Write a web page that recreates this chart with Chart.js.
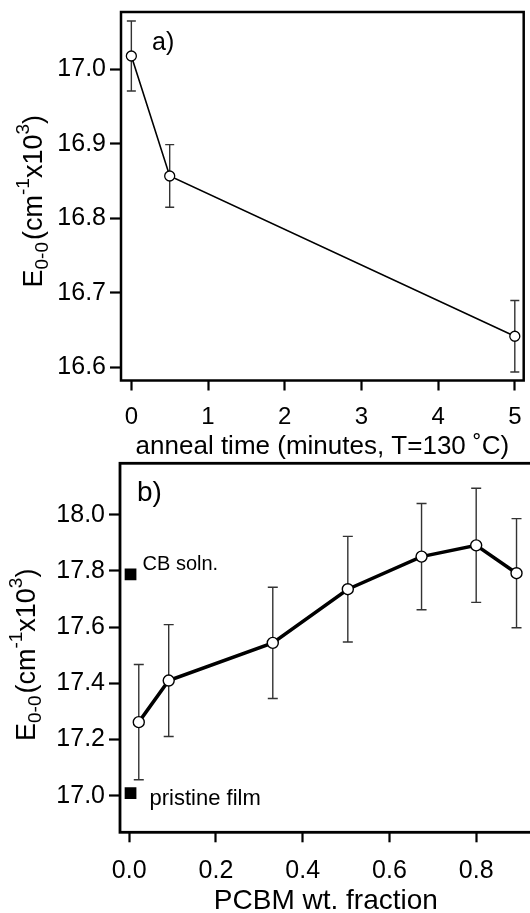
<!DOCTYPE html>
<html>
<head>
<meta charset="utf-8">
<script src="https://cdn.jsdelivr.net/npm/chart.js@4.4.0/dist/chart.umd.min.js"></script>
<style>
  html, body { margin: 0; padding: 0; background: #fff; overflow: hidden; }
  body { width: 530px; height: 913px; position: relative; }
  #wrapA { position: absolute; left: 0; top: 0; width: 530px; height: 465px; }
  #wrapB { position: absolute; left: 0; top: 455px; width: 540px; height: 458px; }
</style>
</head>
<body>
<div id="wrapA"><canvas id="chartA" width="530" height="465"></canvas></div>
<div id="wrapB"><canvas id="chartB" width="540" height="458"></canvas></div>
<script>
// panel a) - E0-0 vs anneal time
const annealTime = [0, 0.5, 5];
const annealE = [17.018, 16.857, 16.642];
const annealErr = [0.047, 0.042, 0.048];
const annealTicksX = [0, 1, 2, 3, 4, 5];
const annealTicksY = [16.6, 16.7, 16.8, 16.9, 17.0];

// panel b) - E0-0 vs PCBM fraction
const pcbmFraction = [0.022, 0.091, 0.331, 0.504, 0.674, 0.8, 0.893];
const pcbmE = [17.262, 17.41, 17.544, 17.735, 17.851, 17.891, 17.792];
const pcbmErr = [0.205, 0.199, 0.198, 0.188, 0.189, 0.203, 0.194];
const refLabels = ['CB soln.', 'pristine film'];
const refFraction = [0.003, 0.003];
const refE = [17.788, 17.009];
const pcbmTicksX = [0, 0.2, 0.4, 0.6, 0.8];
const pcbmTicksY = [17.0, 17.2, 17.4, 17.6, 17.8, 18.0];

// y title pieces: E_0-0 (cm^-1 x10^3)
const yTitleParts = [
    { t: 'E' }, { t: '0-0', sub: true }, { t: '(cm', gap: 2 },
    { t: '-1', sup: true }, { t: 'x10' }, { t: '3', sup: true }, { t: ')' }
];

const FONT = '"Liberation Sans", Arial, sans-serif';
Chart.defaults.font.family = FONT;
Chart.defaults.color = '#000';

function drawYTitle(ctx, baseX, centerY, size, subSize) {
    ctx.save();
    ctx.translate(baseX, centerY);
    ctx.rotate(-Math.PI / 2);
    ctx.fillStyle = '#000';
    ctx.textBaseline = 'alphabetic';
    let total = 0;
    const widths = yTitleParts.map(p => {
        ctx.font = `${p.sub || p.sup ? subSize : size}px ${FONT}`;
        const w = ctx.measureText(p.t).width + (p.gap || 0);
        total += w;
        return w;
    });
    let cx = -total / 2;
    yTitleParts.forEach((p, i) => {
        ctx.font = `${p.sub || p.sup ? subSize : size}px ${FONT}`;
        const dy = p.sub ? size * 0.22 : (p.sup ? -size * 0.5 : 0);
        ctx.fillText(p.t, cx + (p.gap || 0), dy);
        cx += widths[i];
    });
    ctx.restore();
}

const decor = {
    id: 'decor',
    beforeDatasetsDraw(chart, args, opts) {
        const { ctx, scales: { x, y } } = chart;
        ctx.save();
        ctx.strokeStyle = opts.errColor;
        ctx.lineWidth = opts.errWidth;
        chart.data.datasets.forEach(ds => {
            if (!ds.errors) return;
            ds.data.forEach((p, i) => {
                const px = x.getPixelForValue(p.x);
                const y1 = y.getPixelForValue(p.y + ds.errors[i]);
                const y2 = y.getPixelForValue(p.y - ds.errors[i]);
                ctx.beginPath();
                ctx.moveTo(px, y1); ctx.lineTo(px, y2);
                ctx.moveTo(px - opts.cap, y1); ctx.lineTo(px + opts.cap, y1);
                ctx.moveTo(px - opts.cap, y2); ctx.lineTo(px + opts.cap, y2);
                ctx.stroke();
            });
        });
        ctx.restore();
    },
    afterDraw(chart, args, opts) {
        const { ctx, chartArea: a, scales: { x, y } } = chart;
        ctx.save();
        // box frame
        ctx.strokeStyle = '#000';
        ctx.lineWidth = opts.frameWidth;
        ctx.strokeRect(a.left, a.top, a.right - a.left, a.bottom - a.top);
        // panel letter
        ctx.fillStyle = '#000';
        ctx.textBaseline = 'alphabetic';
        ctx.textAlign = 'left';
        ctx.font = `${opts.letterSize}px ${FONT}`;
        ctx.fillText(opts.letter, a.left + opts.letterDx, a.top + opts.letterDy);
        // labels next to reference squares
        chart.data.datasets.forEach(ds => {
            if (!ds.pointLabels) return;
            ds.data.forEach((p, i) => {
                const off = opts.labelOffsets[i];
                ctx.font = `${opts.labelSizes[i]}px ${FONT}`;
                ctx.fillText(ds.pointLabels[i], x.getPixelForValue(p.x) + off[0], y.getPixelForValue(p.y) + off[1]);
            });
        });
        ctx.restore();
        drawYTitle(ctx, opts.titleX, (a.top + a.bottom) / 2 + opts.titleShift, opts.titleSize, opts.titleSubSize);
    }
};

function axisX(cfg) {
    return {
        type: 'linear',
        min: cfg.min,
        max: cfg.max,
        afterBuildTicks: ax => { ax.ticks = cfg.ticks.map(v => ({ value: v })); },
        afterFit: ax => { ax.height = cfg.height; ax.paddingLeft = 0; ax.paddingRight = 0; },
        border: { display: false },
        grid: { drawOnChartArea: false, tickLength: 10, tickWidth: 2.2, tickColor: '#000' },
        ticks: {
            autoSkip: false, maxRotation: 0, color: '#000', padding: cfg.pad,
            font: { size: cfg.tickSize },
            callback: cfg.fmt
        },
        title: {
            display: true, text: cfg.title, color: '#000',
            font: { size: cfg.titleSize, lineHeight: cfg.titleLH },
            padding: { top: 0, bottom: cfg.titlePad }
        }
    };
}

function axisY(cfg) {
    return {
        type: 'linear',
        min: cfg.min,
        max: cfg.max,
        afterBuildTicks: ax => { ax.ticks = cfg.ticks.map(v => ({ value: v })); },
        afterFit: ax => { ax.width = cfg.width; ax.paddingTop = 0; ax.paddingBottom = 0; },
        border: { display: false },
        grid: { drawOnChartArea: false, tickLength: 11, tickWidth: 2.2, tickColor: '#000' },
        ticks: {
            autoSkip: false, color: '#000', padding: 4,
            font: { size: cfg.tickSize },
            callback: v => Number(v).toFixed(1)
        }
    };
}

const pts = (xs, ys) => xs.map((v, i) => ({ x: v, y: ys[i] }));

new Chart(document.getElementById('chartA'), {
    type: 'scatter',
    data: {
        datasets: [{
            data: pts(annealTime, annealE),
            errors: annealErr,
            showLine: true,
            borderColor: '#000',
            borderWidth: 1.6,
            pointRadius: 5,
            pointBorderWidth: 1.3,
            pointBackgroundColor: '#fff',
            pointBorderColor: '#000'
        }]
    },
    options: {
        responsive: false,
        animation: false,
        devicePixelRatio: 1,
        layout: { padding: { top: 12, right: 1.7, left: 0, bottom: 0 } },
        plugins: {
            legend: { display: false },
            tooltip: { enabled: false },
            decor: {
                errColor: '#333', errWidth: 1.4, cap: 4.5, frameWidth: 2.5,
                letter: 'a)', letterSize: 25, letterDx: 31, letterDy: 38,
                titleX: 42, titleShift: 5, titleSize: 27, titleSubSize: 19
            }
        },
        scales: {
            x: axisX({
                min: -0.135, max: 5.116, ticks: annealTicksX, height: 84.5, pad: 12,
                tickSize: 24, fmt: v => String(v),
                title: 'anneal time (minutes, T=130 \u02DAC)', titleSize: 26, titleLH: 1, titlePad: 5
            }),
            y: axisY({ min: 16.5826, max: 17.077, ticks: annealTicksY, width: 121, tickSize: 25 })
        }
    },
    plugins: [decor]
});

new Chart(document.getElementById('chartB'), {
    type: 'scatter',
    data: {
        datasets: [{
            data: pts(pcbmFraction, pcbmE),
            errors: pcbmErr,
            showLine: true,
            borderColor: '#000',
            borderWidth: 3.5,
            pointRadius: 5.5,
            pointBorderWidth: 1.4,
            pointBackgroundColor: '#fff',
            pointBorderColor: '#000'
        }, {
            data: pts(refFraction, refE),
            pointLabels: refLabels,
            showLine: false,
            pointStyle: 'rect',
            pointRadius: 8.3,
            pointBorderWidth: 0,
            pointBackgroundColor: '#000',
            pointBorderColor: '#000'
        }]
    },
    options: {
        responsive: false,
        animation: false,
        devicePixelRatio: 1,
        layout: { padding: { top: 8.3, right: 5, left: 0, bottom: 0 } },
        plugins: {
            legend: { display: false },
            tooltip: { enabled: false },
            decor: {
                errColor: '#333', errWidth: 1.4, cap: 5, frameWidth: 2.8,
                letter: 'b)', letterSize: 28, letterDx: 17, letterDy: 38,
                labelSizes: [20, 22], labelOffsets: [[12, -4], [19, 12]],
                titleX: 35, titleShift: 7, titleSize: 27, titleSubSize: 19
            }
        },
        scales: {
            x: axisX({
                min: -0.0213, max: 0.928, ticks: pcbmTicksX, height: 80.7, pad: 14,
                tickSize: 25, fmt: v => Number(v).toFixed(1),
                title: 'PCBM wt. fraction', titleSize: 28, titleLH: 0.85, titlePad: 0
            }),
            y: axisY({ min: 16.870, max: 18.183, ticks: pcbmTicksY, width: 120, tickSize: 25 })
        }
    },
    plugins: [decor]
});
</script>
</body>
</html>
